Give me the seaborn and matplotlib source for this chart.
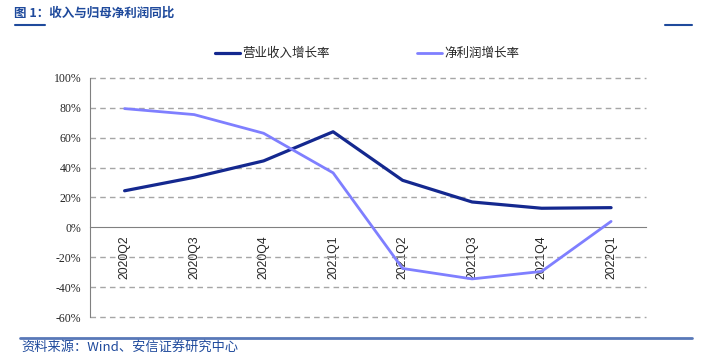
import pandas as pd
import seaborn as sns
import matplotlib.pyplot as plt
import matplotlib.lines as mlines
from matplotlib.ticker import FixedLocator, FuncFormatter

# ---- Data ----
quarters = ["2020Q2", "2020Q3", "2020Q4", "2021Q1", "2021Q2", "2021Q3", "2021Q4", "2022Q1"]
revenue_growth = [24.5, 33.5, 44.5, 64.0, 31.5, 17.0, 12.8, 13.2]
profit_growth = [79.5, 75.5, 63.0, 36.5, -27.5, -34.5, -29.5, 4.0]
series_names = ["营业收入增长率", "净利润增长率"]
y_ticks = [-60, -40, -20, 0, 20, 40, 60, 80, 100]

df = pd.concat([
    pd.DataFrame({"quarter": quarters, "value": revenue_growth, "series": series_names[0]}),
    pd.DataFrame({"quarter": quarters, "value": profit_growth, "series": series_names[1]}),
])

sns.set_style("white")
plt.rcParams["font.family"] = ["Noto Sans CJK SC", "DejaVu Sans"]

colors = {series_names[0]: "#14288F", series_names[1]: "#7F7FFF"}
widths = {series_names[0]: 2.3, series_names[1]: 2.0}
title_blue = "#1F4A9C"

fig = plt.figure(figsize=(7.02, 3.54), dpi=100)
ax = fig.add_axes([0.128, 0.1045, 0.792, 0.6752])

for name in series_names:
    sub = df[df["series"] == name]
    sns.lineplot(data=sub, x="quarter", y="value", ax=ax, color=colors[name],
                 linewidth=widths[name], sort=False, legend=False, zorder=3)

ax.set_xlim(-0.5, len(quarters) - 0.5)
ax.set_ylim(-60, 100)
ax.set_xlabel("")
ax.set_ylabel("")

# dashed grid lines, none at 0 (the axis line sits there)
for v in y_ticks:
    if v != 0:
        ax.axhline(v, color="#A6A6A6", linestyle=(0, (4, 3)), linewidth=1.0,
                   zorder=1, clip_on=False)

for s in ["top", "right"]:
    ax.spines[s].set_visible(False)
ax.spines["bottom"].set_position(("data", 0))
ax.spines["bottom"].set_color("#808080")
ax.spines["left"].set_color("#808080")
ax.spines["bottom"].set_zorder(2)

ax.yaxis.set_major_locator(FixedLocator(y_ticks))
ax.yaxis.set_major_formatter(FuncFormatter(lambda v, p: f"{int(v)}%"))
ax.tick_params(axis="y", direction="out", length=4, width=0.8, color="#808080", pad=2)
for lab in ax.get_yticklabels():
    lab.set_fontfamily("Liberation Serif")
    lab.set_fontsize(8.5)

ax.set_xticks(range(len(quarters)))
ax.set_xticklabels(quarters, rotation=90, fontfamily="Liberation Sans", fontsize=8.8)
ax.tick_params(axis="x", which="major", length=0, pad=6)
ax.xaxis.set_minor_locator(FixedLocator([i + 0.5 for i in range(len(quarters))]))
ax.tick_params(axis="x", which="minor", direction="in", length=4, width=0.8, color="#808080")

# legend
handles = [mlines.Line2D([], [], color=colors[n], linewidth=widths[n], label=n) for n in series_names]
fig.legend(handles=handles, loc="center", bbox_to_anchor=(0.523, 0.848), ncol=2,
           frameon=False, fontsize=9, handlelength=2.0, handletextpad=0.2,
           columnspacing=7.0)

# title and decorations
fig.text(0.020, 0.963, "图 1：收入与归母净利润同比", fontsize=9, fontweight="bold",
         color=title_blue, ha="left", va="center")
fig.add_artist(mlines.Line2D([15 / 702, 45 / 702], [1 - 25 / 354] * 2, color=title_blue, linewidth=1.5))
fig.add_artist(mlines.Line2D([665 / 702, 692 / 702], [1 - 25 / 354] * 2, color=title_blue, linewidth=1.5))
fig.add_artist(mlines.Line2D([20 / 702, 692 / 702], [1 - 337.5 / 354] * 2, color="#5878B8", linewidth=2))
fig.text(0.030, 0.020, "资料来源：Wind、安信证券研究中心", fontsize=9.5, color=title_blue,
         ha="left", va="center", style="italic")

fig.savefig("out.png", dpi=100)
